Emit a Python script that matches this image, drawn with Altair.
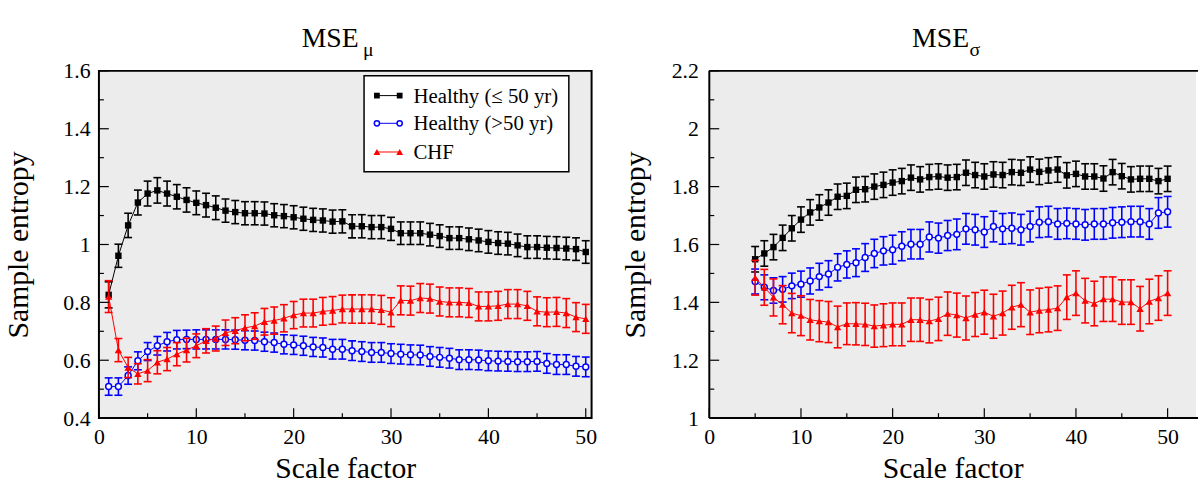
import altair as alt
import pandas as pd

# ---------------- data ----------------
series_names = ["Healthy (≤ 50 yr)", "Healthy (>50 yr)", "CHF"]
series_colors = ["#000000", "#0000ff", "#ff0000"]

scale_left = list(range(1, 51))
scale_right = list(range(5, 51))

# MSE_mu (left panel)
mu_young = [0.826, 0.961, 1.066, 1.145, 1.176, 1.187, 1.176, 1.165, 1.154, 1.144,
            1.136, 1.127, 1.117, 1.112, 1.108, 1.108, 1.107, 1.101, 1.098, 1.094,
            1.089, 1.085, 1.083, 1.079, 1.080, 1.063, 1.063, 1.060, 1.060, 1.054,
            1.039, 1.039, 1.039, 1.034, 1.029, 1.022, 1.022, 1.018, 1.014, 1.009,
            1.005, 1.003, 0.997, 0.991, 0.991, 0.989, 0.988, 0.986, 0.984, 0.974]
mu_young_err = [0.045, 0.040, 0.042, 0.043, 0.043, 0.044, 0.043, 0.042, 0.042, 0.041,
                0.041, 0.041, 0.040, 0.040, 0.040, 0.040, 0.040, 0.040, 0.040, 0.040,
                0.040, 0.040, 0.040, 0.040, 0.040, 0.040, 0.040, 0.040, 0.040, 0.040,
                0.039, 0.039, 0.039, 0.039, 0.039, 0.039, 0.039, 0.039, 0.039, 0.039,
                0.039, 0.039, 0.039, 0.039, 0.039, 0.039, 0.039, 0.039, 0.039, 0.039]
mu_old = [0.509, 0.509, 0.547, 0.598, 0.630, 0.650, 0.664, 0.671, 0.672, 0.672,
          0.672, 0.672, 0.672, 0.671, 0.669, 0.668, 0.664, 0.661, 0.655, 0.653,
          0.650, 0.646, 0.644, 0.638, 0.638, 0.633, 0.630, 0.627, 0.627, 0.623,
          0.621, 0.619, 0.618, 0.613, 0.610, 0.607, 0.602, 0.602, 0.601, 0.598,
          0.597, 0.596, 0.595, 0.595, 0.596, 0.589, 0.585, 0.585, 0.579, 0.577]
mu_old_err = [0.030, 0.030, 0.030, 0.031, 0.031, 0.032, 0.032, 0.032, 0.032, 0.033,
              0.033, 0.033, 0.033, 0.033, 0.033, 0.033, 0.033, 0.033, 0.033, 0.033,
              0.033, 0.033, 0.033, 0.034, 0.034, 0.034, 0.034, 0.034, 0.034, 0.034,
              0.034, 0.034, 0.034, 0.034, 0.034, 0.034, 0.034, 0.034, 0.034, 0.034,
              0.034, 0.034, 0.034, 0.034, 0.034, 0.034, 0.034, 0.034, 0.034, 0.034]
mu_chf = [0.820, 0.635, 0.575, 0.553, 0.564, 0.593, 0.604, 0.621, 0.635, 0.650,
          0.667, 0.675, 0.695, 0.702, 0.712, 0.718, 0.733, 0.737, 0.745, 0.756,
          0.763, 0.763, 0.769, 0.772, 0.777, 0.777, 0.777, 0.777, 0.774, 0.766,
          0.807, 0.806, 0.815, 0.813, 0.803, 0.800, 0.800, 0.798, 0.786, 0.786,
          0.788, 0.794, 0.794, 0.788, 0.769, 0.766, 0.767, 0.763, 0.749, 0.743]
mu_chf_err = [0.055, 0.040, 0.035, 0.035, 0.038, 0.040, 0.040, 0.040, 0.041, 0.041,
              0.042, 0.043, 0.044, 0.045, 0.045, 0.046, 0.046, 0.047, 0.047, 0.047,
              0.048, 0.048, 0.048, 0.048, 0.048, 0.049, 0.049, 0.049, 0.050, 0.050,
              0.050, 0.050, 0.050, 0.050, 0.050, 0.050, 0.050, 0.050, 0.050, 0.050,
              0.050, 0.050, 0.050, 0.050, 0.050, 0.050, 0.050, 0.050, 0.050, 0.050]

# MSE_sigma (right panel)
sg_young = [1.549, 1.569, 1.591, 1.623, 1.656, 1.686, 1.711, 1.728, 1.745, 1.765,
            1.768, 1.789, 1.791, 1.800, 1.806, 1.814, 1.819, 1.831, 1.825, 1.833,
            1.835, 1.831, 1.833, 1.848, 1.840, 1.835, 1.842, 1.840, 1.850, 1.848,
            1.859, 1.851, 1.856, 1.859, 1.839, 1.844, 1.835, 1.835, 1.828, 1.850,
            1.836, 1.825, 1.827, 1.827, 1.819, 1.827]
sg_young_err = [0.044, 0.044, 0.044, 0.044, 0.044, 0.044, 0.044, 0.044, 0.044, 0.044,
                0.044, 0.044, 0.044, 0.044, 0.044, 0.044, 0.044, 0.044, 0.044, 0.044,
                0.044, 0.044, 0.044, 0.044, 0.044, 0.044, 0.044, 0.044, 0.044, 0.044,
                0.044, 0.044, 0.044, 0.044, 0.044, 0.044, 0.044, 0.044, 0.044, 0.044,
                0.044, 0.044, 0.044, 0.044, 0.044, 0.044]
sg_old = [1.472, 1.452, 1.441, 1.445, 1.457, 1.463, 1.474, 1.489, 1.498, 1.521,
          1.531, 1.537, 1.555, 1.569, 1.578, 1.582, 1.594, 1.601, 1.601, 1.626,
          1.622, 1.631, 1.635, 1.654, 1.651, 1.643, 1.662, 1.654, 1.656, 1.651,
          1.662, 1.677, 1.679, 1.671, 1.673, 1.671, 1.668, 1.671, 1.671, 1.675,
          1.677, 1.679, 1.679, 1.671, 1.709, 1.713]
sg_old_err = [0.043, 0.043, 0.044, 0.044, 0.044, 0.045, 0.045, 0.046, 0.046, 0.047,
              0.047, 0.048, 0.048, 0.049, 0.049, 0.050, 0.050, 0.051, 0.051, 0.052,
              0.052, 0.052, 0.053, 0.053, 0.053, 0.053, 0.053, 0.053, 0.053, 0.053,
              0.053, 0.053, 0.053, 0.053, 0.053, 0.053, 0.053, 0.053, 0.053, 0.053,
              0.053, 0.053, 0.053, 0.053, 0.053, 0.053]
sg_chf = [1.485, 1.452, 1.417, 1.392, 1.363, 1.354, 1.340, 1.335, 1.332, 1.315,
          1.326, 1.326, 1.324, 1.318, 1.321, 1.324, 1.324, 1.340, 1.340, 1.335,
          1.343, 1.361, 1.356, 1.346, 1.358, 1.366, 1.352, 1.363, 1.383, 1.392,
          1.366, 1.372, 1.375, 1.380, 1.418, 1.432, 1.406, 1.396, 1.411, 1.411,
          1.401, 1.401, 1.378, 1.403, 1.415, 1.432]
sg_chf_err = [0.060, 0.062, 0.064, 0.066, 0.068, 0.069, 0.070, 0.071, 0.071, 0.072,
              0.072, 0.073, 0.073, 0.073, 0.074, 0.074, 0.074, 0.075, 0.075, 0.075,
              0.075, 0.075, 0.076, 0.076, 0.076, 0.076, 0.076, 0.076, 0.076, 0.076,
              0.077, 0.077, 0.077, 0.077, 0.077, 0.077, 0.077, 0.077, 0.077, 0.077,
              0.077, 0.077, 0.077, 0.077, 0.077, 0.077]

x_major = [0, 10, 20, 30, 40, 50]
x_minor = [5, 15, 25, 35, 45]
yl_major = [0.4, 0.6, 0.8, 1.0, 1.2, 1.4, 1.6]
yl_minor = [0.5, 0.7, 0.9, 1.1, 1.3, 1.5]
yr_major = [1.0, 1.2, 1.4, 1.6, 1.8, 2.0, 2.2]
yr_minor = [1.1, 1.3, 1.5, 1.7, 1.9, 2.1]

SERIF = "Liberation Serif, Times New Roman, serif"
H = 351


def frame_df(k, v, e):
    return pd.DataFrame({"k": k, "v": v,
                         "lo": [a - b for a, b in zip(v, e)],
                         "hi": [a + b for a, b in zip(v, e)]})


def panel(series, x_dom, y_dom, ymaj, ymin, W, sub, sub_dx, sub_dy,
          title_pad, label_pad, full_frame, legend):
    xs = alt.Scale(domain=x_dom, nice=False, zero=False)
    ys = alt.Scale(domain=y_dom, nice=False, zero=False)
    common = dict(ticks=False, domain=False, grid=False,
                  labelFont=SERIF, titleFont=SERIF, labelFontSize=22, titleFontSize=30,
                  titleFontWeight="normal", labelColor="black", titleColor="black")
    xaxis = alt.Axis(values=x_major, title="Scale factor", labelPadding=9,
                     titlePadding=6, labelFlush=False, **common)
    yaxis = alt.Axis(values=ymaj, title="Sample entropy", format="~g",
                     labelPadding=label_pad, titlePadding=title_pad, **common)

    def X(f):
        return alt.X(f, type="quantitative", scale=xs, axis=xaxis)

    def Y(f):
        return alt.Y(f, type="quantitative", scale=ys, axis=yaxis)

    layers = []
    shapes = [("square", True, 42), ("circle", False, 36), ("triangle-up", True, 55)]
    for (df, col, (shp, filled, sz)) in zip(series, series_colors, shapes):
        base = alt.Chart(df)
        layers.append(base.mark_line(color=col, strokeWidth=1).encode(x=X("k"), y=Y("v")))
        layers.append(base.mark_rule(color=col, strokeWidth=1.6).encode(
            x=X("k"), y=Y("lo"), y2="hi"))
        layers.append(base.mark_tick(color=col, orient="horizontal", size=8,
                                     thickness=1.6, opacity=1).encode(x=X("k"), y=Y("lo")))
        layers.append(base.mark_tick(color=col, orient="horizontal", size=8,
                                     thickness=1.6, opacity=1).encode(x=X("k"), y=Y("hi")))
        if filled:
            pm = base.mark_point(shape=shp, filled=True, size=sz, color=col, opacity=1)
        else:
            pm = base.mark_point(shape=shp, filled=False, size=sz, color=col,
                                 fill="white", fillOpacity=1, strokeWidth=1.5, opacity=1)
        layers.append(pm.encode(x=X("k"), y=Y("v")))

    # inward ticks
    layers.append(alt.Chart(pd.DataFrame({"t": x_major})).mark_rule(
        color="black", strokeWidth=1.2).encode(x=X("t"), y=alt.value(H), y2=alt.value(H - 10)))
    layers.append(alt.Chart(pd.DataFrame({"t": x_minor})).mark_rule(
        color="black", strokeWidth=1.2).encode(x=X("t"), y=alt.value(H), y2=alt.value(H - 5)))
    layers.append(alt.Chart(pd.DataFrame({"t": ymaj})).mark_rule(
        color="black", strokeWidth=1.2).encode(y=Y("t"), x=alt.value(0), x2=alt.value(10)))
    layers.append(alt.Chart(pd.DataFrame({"t": ymin})).mark_rule(
        color="black", strokeWidth=1.2).encode(y=Y("t"), x=alt.value(0), x2=alt.value(5)))

    one = pd.DataFrame({"a": [0]})
    if not full_frame:
        layers.append(alt.Chart(one).mark_rule(color="black", strokeWidth=2).encode(
            x=alt.value(0), x2=alt.value(W + 2), y=alt.value(0)))
        layers.append(alt.Chart(one).mark_rule(color="black", strokeWidth=2).encode(
            x=alt.value(0), x2=alt.value(W + 2), y=alt.value(H)))
        layers.append(alt.Chart(one).mark_rule(color="black", strokeWidth=2).encode(
            x=alt.value(0), y=alt.value(0), y2=alt.value(H)))

    # title: MSE + subscript
    layers.append(alt.Chart(pd.DataFrame({"s": ["MSE"]})).mark_text(
        font=SERIF, fontSize=28, align="left", baseline="alphabetic", color="black").encode(
        text="s:N", x=alt.value(205), y=alt.value(-24)))
    layers.append(alt.Chart(pd.DataFrame({"s": [sub]})).mark_text(
        font=SERIF, fontSize=20, align="left", baseline="alphabetic", color="black").encode(
        text="s:N", x=alt.value(sub_dx), y=alt.value(sub_dy)))

    if legend:
        layers.append(alt.Chart(one).mark_rect(fill="white", stroke="black", strokeWidth=1.5).encode(
            x=alt.value(268), x2=alt.value(475), y=alt.value(5), y2=alt.value(102)))
        rows = [25, 53, 82]
        for name, col, (shp, filled, sz), ry in zip(series_names, series_colors, shapes, rows):
            layers.append(alt.Chart(one).mark_rule(color=col, strokeWidth=1).encode(
                x=alt.value(281), x2=alt.value(304), y=alt.value(ry)))
            for px in (281, 304):
                if filled:
                    lm = alt.Chart(one).mark_point(shape=shp, filled=True, size=sz - 8,
                                                   color=col, opacity=1)
                else:
                    lm = alt.Chart(one).mark_point(shape=shp, filled=False, size=sz - 8,
                                                   color=col, fill="white", fillOpacity=1,
                                                   strokeWidth=1.5, opacity=1)
                layers.append(lm.encode(x=alt.value(px), y=alt.value(ry)))
            layers.append(alt.Chart(pd.DataFrame({"s": [name]})).mark_text(
                font=SERIF, fontSize=21, align="left", baseline="middle", color="black").encode(
                text="s:N", x=alt.value(318), y=alt.value(ry + 1)))

    view = alt.ViewBackground(fill="#ececec",
                              stroke="black" if full_frame else None,
                              strokeWidth=2)
    return alt.layer(*layers).properties(width=W, height=H, view=view)


left_series = [frame_df(scale_left, mu_young, mu_young_err),
               frame_df(scale_left, mu_old, mu_old_err),
               frame_df(scale_left, mu_chf, mu_chf_err)]
right_series = [frame_df(scale_right, sg_young, sg_young_err),
                frame_df(scale_right, sg_old, sg_old_err),
                frame_df(scale_right, sg_chf, sg_chf_err)]

left = panel(left_series, [0, 50.6], [0.4, 1.6], yl_major, yl_minor, 498, "μ", 267, -15,
             30, 9, True, True)
right = panel(right_series, [0, 53.1], [1.0, 2.2], yr_major, yr_minor, 492, "σ", 263, -15,
              21, 11, False, False)

chart = alt.hconcat(left, right, spacing=22).properties(
    padding={"left": 2, "top": 22, "right": 0, "bottom": 0}
).configure(background="white")

chart.save("out.html", embed_options={"renderer": "svg", "actions": False})
